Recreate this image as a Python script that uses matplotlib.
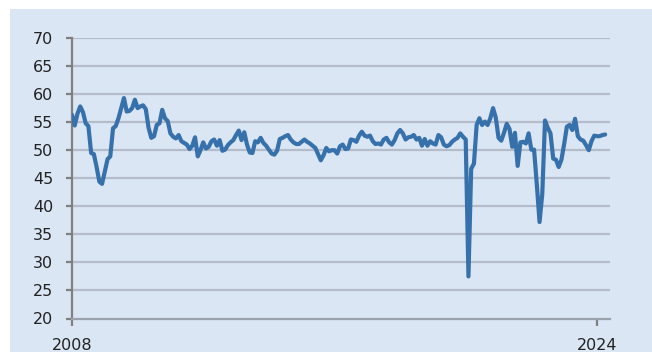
import matplotlib
matplotlib.use("Agg")
import matplotlib.pyplot as plt
import numpy as np
from matplotlib.patches import Rectangle

# Monthly index values, Jan 2008 .. Apr 2024
start_year = 2008
values = [
    # 2008
    56.3, 54.4, 56.5, 57.8, 56.8, 54.8, 54.3, 49.5, 49.3, 47.0, 44.4, 44.0,
    # 2009
    46.2, 48.4, 48.9, 53.9, 54.3, 55.7, 57.5, 59.3, 56.9, 57.0, 57.5, 59.0,
    # 2010
    57.5, 57.8, 58.0, 57.3, 54.0, 52.2, 52.5, 54.5, 54.8, 57.2, 55.7, 55.2,
    # 2011
    53.0, 52.4, 52.1, 52.7, 51.6, 51.3, 51.0, 50.2, 50.8, 52.3, 48.9, 50.0,
    # 2012
    51.4, 50.3, 50.6, 51.6, 51.9, 50.8, 51.8, 49.9, 50.1, 50.9, 51.4, 51.8,
    # 2013
    52.7, 53.5, 51.8, 53.2, 51.0, 49.6, 49.5, 51.6, 51.4, 52.2, 51.3, 50.8,
    # 2014
    50.1, 49.4, 49.2, 49.9, 52.0, 52.2, 52.5, 52.7, 51.9, 51.4, 51.1, 51.1,
    # 2015
    51.5, 51.9, 51.5, 51.2, 50.8, 50.4, 49.3, 48.2, 49.1, 50.4, 49.8, 50.0,
    # 2016
    50.0, 49.4, 50.7, 51.0, 50.2, 50.3, 51.9, 51.8, 51.5, 52.6, 53.3, 52.6,
    # 2017
    52.4, 52.6, 51.6, 51.1, 51.2, 51.0, 51.9, 52.2, 51.4, 51.0, 51.8, 53.0,
    # 2018
    53.6, 53.0, 51.9, 52.3, 52.4, 52.7, 51.9, 52.2, 50.8, 52.0, 50.8, 51.6,
    # 2019
    51.2, 51.0, 52.7, 52.3, 51.0, 50.7, 50.9, 51.5, 51.9, 52.2, 53.0, 52.4,
    # 2020
    51.9, 27.5, 46.7, 47.6, 54.5, 55.7, 54.5, 55.1, 54.5, 55.7, 57.5, 55.8,
    # 2021
    52.2, 51.7, 53.1, 54.7, 53.8, 50.6, 53.1, 47.2, 51.4, 51.5, 51.2, 53.0,
    # 2022
    50.1, 50.1, 43.9, 37.2, 42.2, 55.3, 54.0, 53.0, 48.5, 48.3, 47.0, 48.3,
    # 2023
    51.1, 54.2, 54.5, 53.6, 55.6, 52.5, 51.9, 51.7, 50.9, 50.0, 51.6, 52.6,
    # 2024
    52.5, 52.5, 52.7, 52.8,
]
x_tick_values = [2008, 2024]
x_tick_labels = ["2008", "2024"]
y_ticks = [20, 25, 30, 35, 40, 45, 50, 55, 60, 65, 70]

dates = start_year + np.arange(len(values)) / 12.0

W, H = 652, 352
fig = plt.figure(figsize=(W / 100, H / 100), dpi=100, facecolor="white")

bg = "#dae6f4"
fig.add_artist(Rectangle((10 / W, 0), 1 - 10 / W, (H - 9) / H,
                         transform=fig.transFigure, facecolor=bg,
                         edgecolor="none", zorder=-10))

left, right, top, bottom = 72, 610, 38, 318.5
ax = fig.add_axes([left / W, 1 - bottom / H, (right - left) / W, (bottom - top) / H])
ax.set_zorder(5)
ax.set_facecolor("none")

ax.plot(dates, values, color="#3771ab", lw=3.0, solid_joinstyle="round",
        solid_capstyle="round", zorder=3)

ax.set_ylim(20, 70)
ax.set_xlim(2008, 2008 + (right - left) / 32.81)
ax.set_yticks(y_ticks)
ax.set_xticks(x_tick_values)
ax.set_xticklabels(x_tick_labels)

for yv in y_ticks[1:]:
    ax.axhline(yv, color="#b3bcc8", lw=1.6, zorder=1)

for s in ["top", "right"]:
    ax.spines[s].set_visible(False)
ax.spines["left"].set_color("#808080")
ax.spines["left"].set_linewidth(1.6)
ax.spines["bottom"].set_color("#9aa2ad")
ax.spines["bottom"].set_linewidth(1.6)

ax.tick_params(axis="y", length=4.5, width=1.6, color="#808080", pad=9,
               labelsize=11.5, labelcolor="#222222")
ax.tick_params(axis="x", length=5, width=1.6, color="#808080", pad=9,
               labelsize=11.5, labelcolor="#222222")

fig.savefig("out.png", dpi=100, facecolor="white")
